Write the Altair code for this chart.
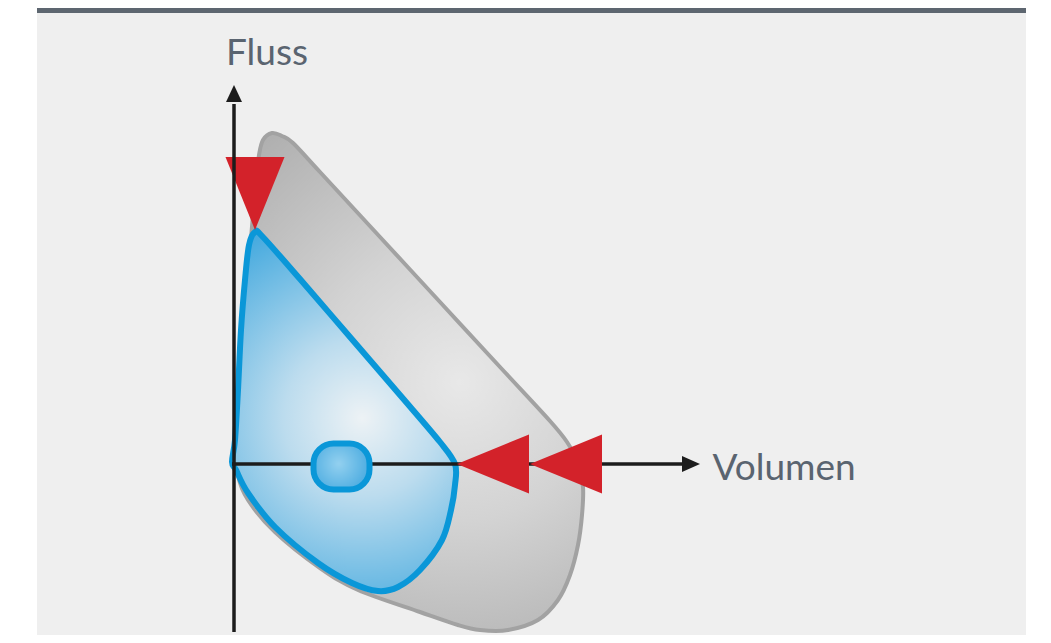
import altair as alt
import pandas as pd

# ---- data (units: volume / flow, origin at axis crossing) ----
gray_vol = [7.6, 9.6, 11.8, 17.2, 29.2, 41.2, 53.2, 63.2, 66.6, 68.8, 69.8, 69.6, 68.8, 67.2,
            64.8, 60.8, 54.8, 49.2, 44.8, 37.2, 24.8, 17.2, 8.2, 2.8, 0.8, 0.6, 1.6, 3.2, 4.4, 5.0, 5.8]
gray_flow = [66.2, 65.6, 64.2, 58.4, 45.4, 32.4, 19.4, 8.6, 4.4, 0.2, -4.6, -10.2, -16.2, -22.2,
             -27.2, -31.2, -33.2, -33.2, -32.2, -29.6, -25.2, -20.8, -13.6, -7.2, -2.2, 4.8, 22.8, 42.8, 56.8, 61.8, 64.8]

blue_vol = [4.2, 5.6, 13.2, 23.2, 33.2, 41.2, 44.2, 44.2, 43.4, 41.6, 37.2, 32.8, 28.8, 23.6,
            16.8, 8.2, 2.8, 0.4, -0.4, 0.2, 0.8, 1.4, 2.2, 3.0]
blue_flow = [46.4, 45.6, 37.0, 25.4, 13.8, 4.4, 0.0, -4.2, -9.2, -15.2, -21.2, -24.6, -25.4, -23.8,
             -19.8, -12.6, -5.8, -1.2, 0.4, 4.8, 14.8, 26.8, 36.8, 43.8]

blob_vol = [15.9, 27.1]
blob_flow = [4.1, -5.1]

red_down_vol = [4.2]
red_down_flow = [46.8]
red_left_vol = [44.6, 59.2]
red_left_flow = [0.0, 0.0]

yaxis_vol = [0.0]
yaxis_flow = [-33.6, 72.0]
yaxis_tip = [0.0, 75.8]
xaxis_vol = [-0.4, 90.0]
xaxis_flow = [0.0]
xaxis_tip = [93.2, 0.0]

labels = ["Fluss", "Volumen"]
label_vol = [-1.6, 95.7]
label_flow = [79.8, -3.2]

panel_vol = [-39.4, 158.4]
panel_flow = [-34.2, 91.2]
bar_flow = [90.2, 91.2]

X_DOMAIN = [-45.2, 161.8]
Y_DOMAIN = [-34.2, 91.2]

xs = alt.Scale(domain=X_DOMAIN, nice=False, zero=False)
ys = alt.Scale(domain=Y_DOMAIN, nice=False, zero=False)


def X(f="vol"):
    return alt.X(f"{f}:Q", scale=xs, axis=None)


def Y(f="flow"):
    return alt.Y(f"{f}:Q", scale=ys, axis=None)


panel_df = pd.DataFrame({"vol": [panel_vol[0]], "vol2": [panel_vol[1]],
                         "flow": [panel_flow[0]], "flow2": [panel_flow[1]]})
bar_df = pd.DataFrame({"vol": [panel_vol[0]], "vol2": [panel_vol[1]],
                       "flow": [bar_flow[0]], "flow2": [bar_flow[1]]})

panel = alt.Chart(panel_df).mark_rect(fill="#efefef").encode(
    x=X(), x2="vol2", y=Y(), y2="flow2")
topbar = alt.Chart(bar_df).mark_rect(fill="#5d6670").encode(
    x=X(), x2="vol2", y=Y(), y2="flow2")

gray_df = pd.DataFrame({"vol": gray_vol, "flow": gray_flow, "idx": range(len(gray_vol))})
gray_grad = {"gradient": "radial", "x1": 0.6, "y1": 0.5, "r1": 0.0,
             "x2": 0.6, "y2": 0.5, "r2": 0.62,
             "stops": [{"offset": 0, "color": "#e8e8e8"},
                       {"offset": 0.45, "color": "#d3d3d3"},
                       {"offset": 1, "color": "#b0b0b0"}]}
gray = alt.Chart(gray_df).mark_line(
    interpolate="cardinal-closed", fill=gray_grad, stroke="#a2a2a2", strokeWidth=4
).encode(x=X(), y=Y(), order="idx:Q")

blue_df = pd.DataFrame({"vol": blue_vol, "flow": blue_flow, "idx": range(len(blue_vol))})
blue_grad = {"gradient": "radial", "x1": 0.55, "y1": 0.52, "r1": 0.0,
             "x2": 0.55, "y2": 0.52, "r2": 0.62,
             "stops": [{"offset": 0, "color": "#edf2f5"},
                       {"offset": 0.35, "color": "#bcdcee"},
                       {"offset": 1, "color": "#3aa5dd"}]}
blue = alt.Chart(blue_df).mark_line(
    interpolate="cardinal-closed", fill=blue_grad, stroke="#0a97d8", strokeWidth=6
).encode(x=X(), y=Y(), order="idx:Q")

xaxis_df = pd.DataFrame({"vol": [xaxis_vol[0]], "vol2": [xaxis_vol[1]], "flow": xaxis_flow})
xaxis = alt.Chart(xaxis_df).mark_rule(color="#1c1c1c", strokeWidth=3.5).encode(
    x=X(), x2="vol2", y=Y())
yaxis_df = pd.DataFrame({"vol": yaxis_vol, "flow": [yaxis_flow[0]], "flow2": [yaxis_flow[1]]})
yaxis = alt.Chart(yaxis_df).mark_rule(color="#1c1c1c", strokeWidth=3.5).encode(
    x=X(), y=Y(), y2="flow2")

blob_df = pd.DataFrame({"vol": [blob_vol[0]], "vol2": [blob_vol[1]],
                        "flow": [blob_flow[0]], "flow2": [blob_flow[1]]})
blob_grad = {"gradient": "radial", "x1": 0.45, "y1": 0.45, "r1": 0.0,
             "x2": 0.45, "y2": 0.45, "r2": 0.7,
             "stops": [{"offset": 0, "color": "#93d0ef"},
                       {"offset": 1, "color": "#3aa3dd"}]}
blob = alt.Chart(blob_df).mark_rect(
    cornerRadius=20, fill=blob_grad, stroke="#0a97d8", strokeWidth=6
).encode(x=X(), x2="vol2", y=Y(), y2="flow2")

RED = "#d3222a"
red_left_df = pd.DataFrame({"vol": red_left_vol, "flow": red_left_flow})
red_left = alt.Chart(red_left_df).mark_point(
    shape="M0,0 L7.2,-2.95 L7.2,2.95 Z", size=400, filled=True, fill=RED,
    strokeWidth=0, opacity=1
).encode(x=X(), y=Y())
red_down_df = pd.DataFrame({"vol": red_down_vol, "flow": red_down_flow})
red_down = alt.Chart(red_down_df).mark_point(
    shape="M0,0 L2.95,-7.3 L-2.95,-7.3 Z", size=400, filled=True, fill=RED,
    strokeWidth=0, opacity=1
).encode(x=X(), y=Y())

ytip_df = pd.DataFrame({"vol": [yaxis_tip[0]], "flow": [yaxis_tip[1]]})
ytip = alt.Chart(ytip_df).mark_point(
    shape="M0,0 L0.8,1.7 L-0.8,1.7 Z", size=400, filled=True, fill="#1c1c1c",
    strokeWidth=0, opacity=1
).encode(x=X(), y=Y())
xtip_df = pd.DataFrame({"vol": [xaxis_tip[0]], "flow": [xaxis_tip[1]]})
xtip = alt.Chart(xtip_df).mark_point(
    shape="M0,0 L-1.8,-0.8 L-1.8,0.8 Z", size=400, filled=True, fill="#1c1c1c",
    strokeWidth=0, opacity=1
).encode(x=X(), y=Y())

text_df = pd.DataFrame({"vol": label_vol, "flow": label_flow, "label": labels})
text = alt.Chart(text_df).mark_text(
    align="left", baseline="alphabetic", font="Lato", fontSize=37, color="#5a6470"
).encode(x=X(), y=Y(), text="label:N")

chart = alt.layer(
    panel, topbar, gray, blue, xaxis, blob, red_left, red_down, yaxis, ytip, xtip, text
).properties(
    width=1035, height=627, padding=0, autosize="none", background="white"
).configure_view(strokeWidth=0)

chart.save("out.html", embed_options={"renderer": "svg", "actions": False})
